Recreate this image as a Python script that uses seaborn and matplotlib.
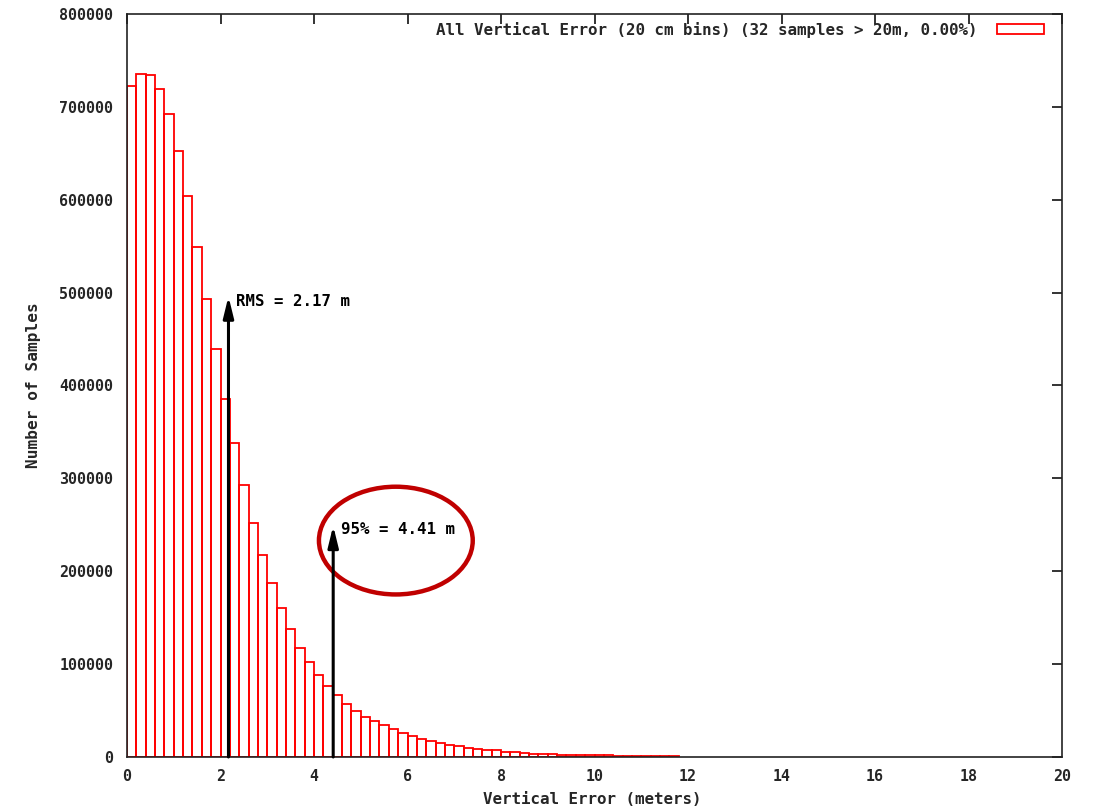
import numpy as np
import pandas as pd
import matplotlib
matplotlib.use("Agg")
import matplotlib.pyplot as plt
import seaborn as sns
from matplotlib.patches import Ellipse, Patch

# ---------------- data ----------------
BIN_WIDTH = 0.2  # metres (20 cm bins)
counts = [
    722500, 735400, 734300, 719200, 692000, 652100, 603700, 549100, 493500, 439300,
    385500, 338100, 293200, 251600, 217800, 187000, 160500, 137700, 117500, 101800,
    88500, 76500, 66200, 57500, 50000, 42800, 38300, 34200, 29600, 25300,
    22200, 18900, 17500, 14800, 13200, 11800, 10100, 8600, 7200, 7000,
    5500, 5300, 3800, 3600, 3500, 2700, 2600, 2500, 2400, 1800,
    1700, 1600, 1500, 1400, 1300, 1200, 1100, 1000, 900,
]
rms_value = 2.17
rms_arrow_top = 496000
p95_value = 4.41
p95_arrow_top = 249000
legend_label = "All Vertical Error (20 cm bins) (32 samples > 20m, 0.00%)"
x_ticks = list(range(0, 21, 2))
y_ticks = list(range(0, 800001, 100000))

bin_left = np.arange(len(counts)) * BIN_WIDTH
df = pd.DataFrame({"error": bin_left + BIN_WIDTH / 2, "n": counts})

# ---------------- style ----------------
sns.set_theme(style="white")
plt.rcParams["font.family"] = ["DejaVu Sans Mono", "DejaVu Sans"]

fig = plt.figure(figsize=(10.97, 8.09), dpi=100)
fig.patch.set_facecolor("white")
ax = fig.add_axes([0.1158, 0.0643, 0.8523, 0.9184])
ax.set_facecolor("white")

sns.histplot(data=df, x="error", weights="n", binwidth=BIN_WIDTH,
             binrange=(0, len(counts) * BIN_WIDTH), fill=False,
             element="bars", color="red", linewidth=1.3, ax=ax)

ax.set_xlim(0, 20)
ax.set_ylim(0, 800000)
ax.set_xticks(x_ticks)
ax.set_xticklabels([str(t) for t in x_ticks])
ax.set_yticks(y_ticks)
ax.set_yticklabels([str(t) for t in y_ticks])
ax.tick_params(direction="in", length=7, width=1.4, color="#333333",
               top=True, right=True, labelsize=10.8)
ax.tick_params(axis="y", pad=10)
ax.tick_params(axis="x", pad=9)
for lbl in ax.get_xticklabels() + ax.get_yticklabels():
    lbl.set_fontweight("bold")
for sp in ax.spines.values():
    sp.set_visible(True)
    sp.set_color("#222222")
    sp.set_linewidth(1.2)

ax.set_xlabel("Vertical Error (meters)", fontsize=11.4, fontweight="bold")
ax.set_ylabel("Number of Samples", fontsize=11.6, fontweight="bold")
ax.xaxis.set_label_coords(0.498, -0.047)
ax.yaxis.set_label_coords(-0.092, 0.5)

# arrows and annotations
arrow_style = "-|>,head_width=0.22,head_length=0.9"
ax.annotate("", xy=(rms_value, rms_arrow_top), xytext=(rms_value, 0),
            arrowprops=dict(arrowstyle=arrow_style, color="black", lw=2.2,
                            mutation_scale=14, shrinkA=0, shrinkB=0))
ax.annotate("", xy=(p95_value, p95_arrow_top), xytext=(p95_value, 0),
            arrowprops=dict(arrowstyle=arrow_style, color="black", lw=2.2,
                            mutation_scale=14, shrinkA=0, shrinkB=0))
ax.text(rms_value + 0.16, 490500, f"RMS = {rms_value:.2f} m", fontsize=11.3,
        fontweight="bold", va="center", ha="left", color="black")
ax.text(p95_value + 0.17, 244700, f"95% = {p95_value:.2f} m", fontsize=11.3,
        fontweight="bold", va="center", ha="left", color="black")

# highlight ellipse
ax.add_patch(Ellipse((5.75, 233000), 3.29, 116000, fill=False,
                     edgecolor="#c00000", linewidth=3.2, clip_on=False))

# legend
ax.legend(handles=[Patch(facecolor="white", edgecolor="red", linewidth=1.3)],
          labels=[legend_label], loc="upper right", bbox_to_anchor=(0.998, 1.011),
          frameon=False, markerfirst=False,
          prop={"size": 11.4, "weight": "bold"},
          handlelength=2.97, handleheight=0.6, borderaxespad=0.7,
          borderpad=0.3, handletextpad=1.27)

fig.savefig("out.png", dpi=100, facecolor="white")
